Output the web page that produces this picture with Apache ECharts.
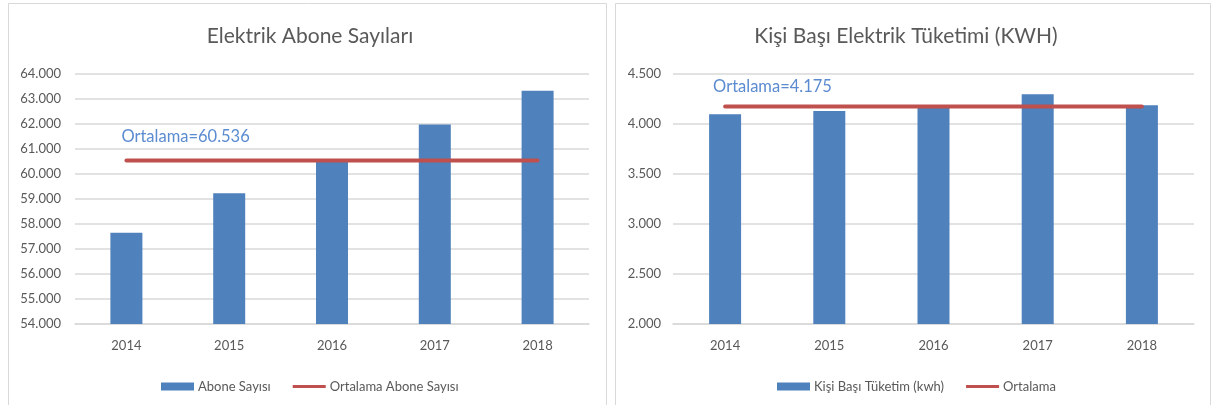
<!DOCTYPE html>
<html>
<head>
<meta charset="utf-8">
<script src="https://cdn.jsdelivr.net/npm/echarts@6/dist/echarts.min.js"></script>
<style>
html,body{margin:0;padding:0;background:#fff;}
#c{width:1213px;height:405px;}
</style>
</head>
<body>
<div id="c"></div>
<script>
// ---- data ----
const years = ['2014', '2015', '2016', '2017', '2018'];
const aboneSayisi = [57650, 59230, 60490, 61980, 63330];
const aboneOrtalama = [60536, 60536, 60536, 60536, 60536];
const kisiBasiTuketim = [4097, 4130, 4164, 4297, 4187];
const tuketimOrtalama = [4175, 4175, 4175, 4175, 4175];
const titles = ['Elektrik Abone Sayıları', 'Kişi Başı Elektrik Tüketimi (KWH)'];
const legendNames = [['Abone Sayısı', 'Ortalama Abone Sayısı'], ['Kişi Başı Tüketim (kwh)', 'Ortalama']];

const FONT = 'Lato';
const TXT = '#595959';
const BLUE = '#4F81BD';
const RED = '#C0504D';
const GRID = '#D9D9D9';

function fmt(v) { return String(v).replace(/\B(?=(\d{3})+(?!\d))/g, '.'); }

function avgLine(arr, xOff, dist, fs) {
  return arr.map((v, i) => i === 0 ? {
    value: v,
    label: {
      show: true, position: 'top', align: 'left', distance: dist, offset: [xOff, 0],
      formatter: p => 'Ortalama=' + fmt(p.value),
      color: '#5B8BD0', fontFamily: FONT, fontSize: fs
    }
  } : v);
}

const chart = echarts.init(document.getElementById('c'), null, { renderer: 'canvas' });
const lineIcon = 'path://M0,0h110v10h-110z';

chart.setOption({
  animation: false,
  backgroundColor: '#fff',
  textStyle: { fontFamily: FONT, color: TXT },
  graphic: [
    { type: 'rect', shape: { x: 8.5, y: 3.5, width: 598, height: 410 }, style: { fill: 'none', stroke: GRID, lineWidth: 1 } },
    { type: 'rect', shape: { x: 615.5, y: 3.5, width: 595, height: 410 }, style: { fill: 'none', stroke: GRID, lineWidth: 1 } }
  ],
  title: [
    { text: titles[0], left: 305, top: 21, textAlign: 'center', textStyle: { fontFamily: FONT, fontSize: 21, fontWeight: 'normal', color: TXT } },
    { text: titles[1], left: 901, top: 21, textAlign: 'center', textStyle: { fontFamily: FONT, fontSize: 21, fontWeight: 'normal', color: TXT } }
  ],
  legend: [
    {
      left: 156, top: 375, itemWidth: 33, itemHeight: 8, itemGap: 22,
      textStyle: { fontFamily: FONT, fontSize: 13, color: TXT, padding: [0, 0, 0, -1] },
      data: [{ name: legendNames[0][0], icon: 'rect' }, { name: legendNames[0][1], icon: lineIcon }]
    },
    {
      left: 772, top: 375, itemWidth: 33, itemHeight: 8, itemGap: 22,
      textStyle: { fontFamily: FONT, fontSize: 13, color: TXT, padding: [0, 0, 0, -1] },
      data: [{ name: legendNames[1][0], icon: 'rect' }, { name: legendNames[1][1], icon: lineIcon }]
    }
  ],
  grid: [
    { left: 75, top: 74, width: 514, height: 250, containLabel: false },
    { left: 673, top: 74, width: 521, height: 250, containLabel: false }
  ],
  xAxis: [0, 1].map(i => ({
    type: 'category', gridIndex: i, data: years, boundaryGap: true,
    axisLine: { lineStyle: { color: GRID, width: 1.5 } },
    axisTick: { show: false },
    axisLabel: { color: TXT, fontFamily: FONT, fontSize: 13, margin: 15 }
  })),
  yAxis: [
    {
      type: 'value', gridIndex: 0, min: 54000, max: 64000, interval: 1000,
      axisLine: { show: false }, axisTick: { show: false },
      splitLine: { lineStyle: { color: GRID, width: 1.5 } },
      axisLabel: { color: TXT, fontFamily: FONT, fontSize: 13, margin: 14, formatter: fmt }
    },
    {
      type: 'value', gridIndex: 1, min: 2000, max: 4500, interval: 500,
      axisLine: { show: false }, axisTick: { show: false },
      splitLine: { lineStyle: { color: GRID, width: 1.5 } },
      axisLabel: { color: TXT, fontFamily: FONT, fontSize: 13, margin: 12, formatter: fmt }
    }
  ],
  series: [
    {
      name: legendNames[0][0], type: 'bar', xAxisIndex: 0, yAxisIndex: 0, data: aboneSayisi,
      barWidth: 32, itemStyle: { color: BLUE }
    },
    {
      name: legendNames[0][1], type: 'line', xAxisIndex: 0, yAxisIndex: 0, data: avgLine(aboneOrtalama, -5, 15.5, 16.5),
      symbol: 'circle', symbolSize: 0.01, showSymbol: true, itemStyle: { color: RED },
      lineStyle: { color: RED, width: 4, cap: 'round' }, z: 5
    },
    {
      name: legendNames[1][0], type: 'bar', xAxisIndex: 1, yAxisIndex: 1, data: kisiBasiTuketim,
      barWidth: 32, itemStyle: { color: BLUE }
    },
    {
      name: legendNames[1][1], type: 'line', xAxisIndex: 1, yAxisIndex: 1, data: avgLine(tuketimOrtalama, -12, 11.75, 16.5),
      symbol: 'circle', symbolSize: 0.01, showSymbol: true, itemStyle: { color: RED },
      lineStyle: { color: RED, width: 4, cap: 'round' }, z: 5
    }
  ]
});
</script>
</body>
</html>
